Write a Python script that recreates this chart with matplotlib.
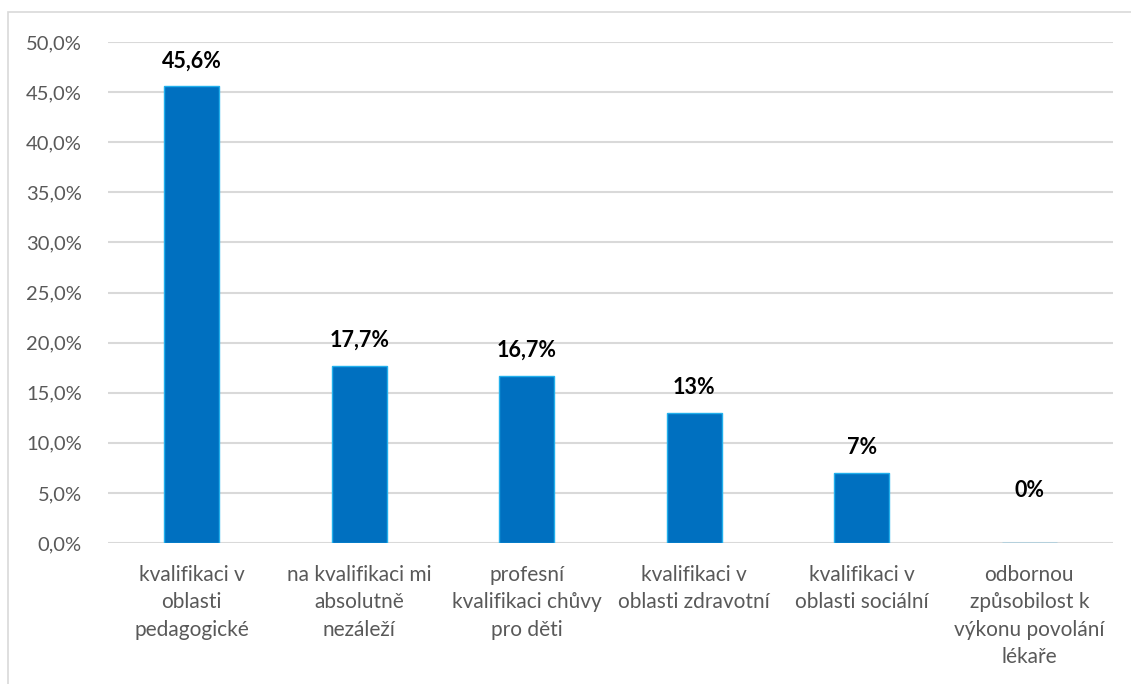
import matplotlib
matplotlib.use("Agg")
import matplotlib.pyplot as plt
from matplotlib.patches import Rectangle

categories = [
    "kvalifikaci v\noblasti\npedagogické",
    "na kvalifikaci mi\nabsolutně\nnezáleží",
    "profesní\nkvalifikaci chůvy\npro děti",
    "kvalifikaci v\noblasti zdravotní",
    "kvalifikaci v\noblasti sociální",
    "odbornou\nzpůsobilost k\nvýkonu povolání\nlékaře",
]
values = [45.6, 17.7, 16.7, 13.0, 7.0, 0.0]
value_labels = ["45,6%", "17,7%", "16,7%", "13%", "7%", "0%"]
yticks = [0, 5, 10, 15, 20, 25, 30, 35, 40, 45, 50]
ytick_labels = ["0,0%", "5,0%", "10,0%", "15,0%", "20,0%", "25,0%",
                "30,0%", "35,0%", "40,0%", "45,0%", "50,0%"]

plt.rcParams['font.family'] = ['Lato', 'DejaVu Sans']

W, H = 1131, 684
fig = plt.figure(figsize=(W / 100, H / 100), dpi=100)
fig.patch.set_facecolor("white")

# chart frame
fig.add_artist(Rectangle((8 / W, -0.1), 1.2, (H - 12) / H + 0.1,
                         transform=fig.transFigure, fill=False,
                         edgecolor="#D9D9D9", linewidth=1.2))

ax = fig.add_axes([108 / W, (H - 543) / H, (1113 - 108) / W, (543 - 42) / H])
x = list(range(len(categories)))
ax.bar(x, values, width=0.33, color="#0070C0", edgecolor="#22B0EC",
       linewidth=1.0, zorder=3)
ax.set_xlim(-0.5, len(categories) - 0.5)
ax.set_ylim(0, 50)
ax.set_yticks(yticks)
ax.set_yticklabels(ytick_labels)
ax.set_xticks(x)
ax.set_xticklabels(categories, linespacing=1.45)
ax.grid(axis="y", color="#D9D9D9", linewidth=1.5, zorder=0)
for s in ax.spines.values():
    s.set_visible(False)
ax.tick_params(axis="both", length=0, colors="#595959")
ax.tick_params(axis="y", pad=19, labelsize=14.5)
ax.tick_params(axis="x", pad=16, labelsize=15)

for xi, v, lab in zip(x, values, value_labels):
    off = 18 if v > 0 else 38
    ax.annotate(lab, (xi, v), xytext=(0, off), textcoords="offset points",
                ha="center", va="center", fontsize=15.5, fontweight="bold",
                color="black")

fig.savefig("out.png", dpi=100, facecolor="white")
